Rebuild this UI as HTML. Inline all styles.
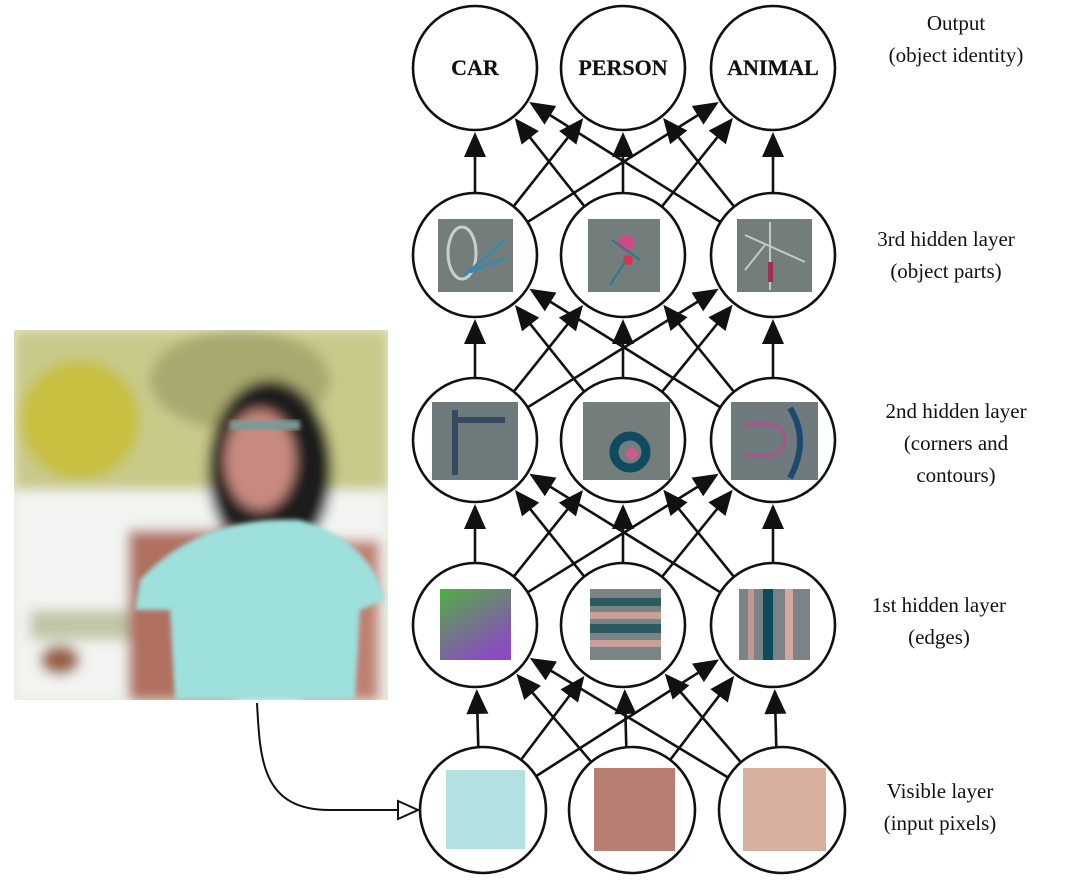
<!DOCTYPE html>
<html><head><meta charset="utf-8"><style>
html,body{margin:0;padding:0;background:#fff;}
svg{display:block}
text{font-family:"Liberation Serif",serif;fill:#111}
</style></head><body>
<svg id="s" width="1070" height="880" viewBox="0 0 1070 880" xmlns="http://www.w3.org/2000/svg">
<defs>
<filter id="bl"><feGaussianBlur stdDeviation="6"/></filter>
<filter id="bl2"><feGaussianBlur stdDeviation="2.5"/></filter>
<linearGradient id="e1" x1="0" y1="0" x2="0.6" y2="1"><stop offset="0" stop-color="#4fb040"/><stop offset="0.5" stop-color="#6f7c80"/><stop offset="1" stop-color="#8a4cc0"/></linearGradient>
<clipPath id="pc"><rect x="14" y="330" width="374" height="370"/></clipPath>
</defs>
<g clip-path="url(#pc)">
<rect x="14" y="330" width="374" height="370" fill="#e8ecd8"/>
<g filter="url(#bl)">
<rect x="14" y="330" width="374" height="160" fill="#c9c98a"/>
<ellipse cx="80" cy="420" rx="60" ry="60" fill="#c8c040"/>
<ellipse cx="240" cy="380" rx="90" ry="50" fill="#a8a870"/>
<rect x="14" y="490" width="374" height="210" fill="#f2f4f2"/>
<rect x="30" y="610" width="120" height="30" fill="#bfc7a8"/>
<ellipse cx="60" cy="660" rx="20" ry="15" fill="#9a6040"/>
<ellipse cx="270" cy="470" rx="62" ry="90" fill="#1e1e1e"/>
<ellipse cx="260" cy="460" rx="35" ry="50" fill="#c88a80"/>
<rect x="128" y="530" width="110" height="170" fill="#b07060"/>
<rect x="300" y="540" width="80" height="160" fill="#c08070"/>
</g>
<path d="M140 580 Q200 515 300 520 Q370 540 385 600 L360 610 L355 700 L175 700 L170 610 L135 610 Z" fill="#9ee0dc" filter="url(#bl2)"/>
<rect x="230" y="420" width="70" height="10" fill="#7a9a98" filter="url(#bl2)"/>
</g>
<path d="M257 703 C260 760 262 810 330 810 L400 810" fill="none" stroke="#111" stroke-width="2"/>
<polygon points="398,801 418,810 398,819" fill="#fff" stroke="#111" stroke-width="2"/>
<rect x="438" y="219" width="75" height="73" fill="#737d7b"/>
<ellipse cx="462" cy="253" rx="14" ry="26" fill="none" stroke="#c9cfcc" stroke-width="3"/>
<path d="M465 275 L505 240 M470 272 L505 258" stroke="#3a88aa" stroke-width="3"/>
<rect x="588" y="219" width="72" height="73" fill="#737d7b"/>
<circle cx="626" cy="243" r="8" fill="#d04888"/><circle cx="628" cy="260" r="5" fill="#e03050"/>
<path d="M610 285 L625 262 M612 240 L640 260" stroke="#2a7a88" stroke-width="2"/>
<rect x="737" y="219" width="75" height="73" fill="#737d7b"/>
<path d="M770 222 L770 290 M745 235 L805 262 M745 270 L765 245" stroke="#c0cac8" stroke-width="2"/>
<rect x="768" y="262" width="5" height="20" fill="#a03050"/>
<rect x="432" y="402" width="86" height="78" fill="#6d7a7c"/>
<path d="M455 410 L455 475 M455 420 L505 420" stroke="#334a60" stroke-width="6"/>
<rect x="583" y="402" width="87" height="78" fill="#737e7c"/>
<circle cx="630" cy="452" r="16" fill="none" stroke="#104a60" stroke-width="9"/><circle cx="632" cy="454" r="6" fill="#d05a8a"/>
<rect x="731" y="402" width="87" height="78" fill="#6e7a7c"/>
<path d="M790 408 Q810 440 790 478" stroke="#1a4a70" stroke-width="6" fill="none"/>
<path d="M745 425 Q785 420 785 440 Q785 460 745 455" stroke="#a05a88" stroke-width="4" fill="none"/>
<rect x="440" y="589" width="71" height="71" fill="url(#e1)"/>
<rect x="590" y="589" width="71" height="71" fill="#7a8486"/>
<rect x="590" y="598" width="71" height="8" fill="#2d5a60"/><rect x="590" y="612" width="71" height="7" fill="#c8a098"/>
<rect x="590" y="624" width="71" height="9" fill="#2d5a60"/><rect x="590" y="640" width="71" height="7" fill="#c8a098"/>
<rect x="739" y="589" width="71" height="71" fill="#7a8486"/>
<rect x="748" y="589" width="6" height="71" fill="#c09890"/><rect x="763" y="589" width="10" height="71" fill="#0f4a5a"/><rect x="785" y="589" width="8" height="71" fill="#d4a8a0"/>
<rect x="446" y="770" width="79" height="79" fill="#b3e0e0"/>
<rect x="594" y="768" width="81" height="83" fill="#b87e74"/>
<rect x="743" y="768" width="83" height="83" fill="#d8b0a0"/>
<g id="arrows"></g>
<g id="nodes"></g>
<g font-size="22" text-anchor="middle" style="font-weight:bold" stroke="#111" stroke-width="0.2">
<text x="475" y="75">CAR</text>
<text x="623" y="75">PERSON</text>
<text x="773" y="75">ANIMAL</text>
</g>
<g font-size="21" text-anchor="middle">
<text x="956" y="30">Output</text><text x="956" y="62">(object identity)</text>
<text x="946" y="246">3rd hidden layer</text><text x="946" y="278">(object parts)</text>
<text x="956" y="418">2nd hidden layer</text><text x="956" y="450">(corners and</text><text x="956" y="482">contours)</text>
<text x="939" y="612">1st hidden layer</text><text x="939" y="644">(edges)</text>
<text x="940" y="798">Visible layer</text><text x="940" y="830">(input pixels)</text>
</g>
</svg>
<script>
var X=[475,623,773],XB=[483,632,782],Y=[68,255,440,625,810],R=62,NS="http://www.w3.org/2000/svg";
var A=document.getElementById('arrows'),N=document.getElementById('nodes');
function el(t,a,p){var e=document.createElementNS(NS,t);for(var k in a)e.setAttribute(k,a[k]);p.appendChild(e);return e;}
function cx(r,c){return r==4?XB[c]:X[c];}
for(var r=0;r<5;r++)for(var c=0;c<3;c++)el('ellipse',{cx:cx(r,c),cy:Y[r],rx:(r==4?63:R),ry:(r==4?63:R),fill:'none',stroke:'#111','stroke-width':2.6},N);
for(var r=1;r<5;r++)for(var i=0;i<3;i++)for(var j=0;j<3;j++){
 var x1=cx(r,i),y1=Y[r],x2=X[j],y2=Y[r-1];
 if(r==4&&i==j)x1=X[i]+5;
 var dx=x2-x1,dy=y2-y1,L=Math.sqrt(dx*dx+dy*dy),ux=dx/L,uy=dy/L;
 var R1=(r==4?63:R);
 var sx=x1+ux*R1,sy=y1+uy*R1,ex=x2-ux*(R+2),ey=y2-uy*(R+2),hl=25,hw=11;
 var bx=ex-ux*hl,by=ey-uy*hl;
 el('line',{x1:sx,y1:sy,x2:bx+ux*2,y2:by+uy*2,stroke:'#111','stroke-width':2.6},A);
 el('polygon',{points:ex+','+ey+' '+(bx-uy*hw)+','+(by+ux*hw)+' '+(bx+uy*hw)+','+(by-ux*hw),fill:'#111'},A);
}
</script>
</body></html>
